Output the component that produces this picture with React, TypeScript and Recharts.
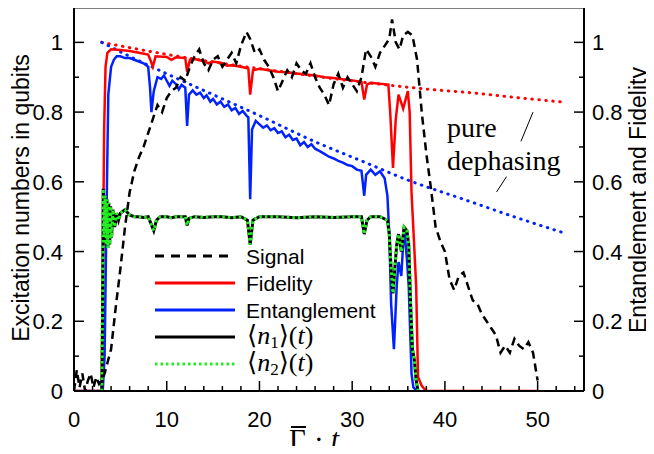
import { ComposedChart, Line, XAxis, YAxis, ReferenceLine } from 'recharts';

const xTicks = [0, 2, 4, 6, 8, 10, 12, 14, 16, 18, 20, 22, 24, 26, 28, 30, 32, 34, 36, 38, 40, 42, 44, 46, 48, 50, 52, 54];
const yTicks = [0, 0.1, 0.2, 0.3, 0.4, 0.5, 0.6, 0.7, 0.8, 0.9, 1];
const seriesNames = ['Signal', 'Fidelity', 'Entanglement'];

// [x, value] pairs
const signal = [
  [0, 0.0], [0.3, 0.06], [0.6, 0.01], [0.9, 0.05], [1.2, 0.0], [1.5, 0.03], [1.8, 0.05], [2.1, 0.01], [2.4, 0.04],
  [2.7, 0.02], [3.0, 0.03], [3.3, 0.05], [3.6, 0.08], [4.0, 0.12], [4.5, 0.24], [5.0, 0.35], [5.5, 0.47], [6.0, 0.57],
  [6.5, 0.63], [7.0, 0.67], [7.5, 0.7], [8.0, 0.74], [8.5, 0.78], [9.0, 0.82], [9.5, 0.8], [10.0, 0.84], [10.5, 0.86],
  [11.0, 0.87], [11.5, 0.9], [12.0, 0.89], [12.5, 0.93], [13.0, 0.96], [13.5, 0.98], [14.0, 0.94], [14.5, 0.92],
  [15.0, 0.95], [15.5, 0.96], [16.0, 0.93], [16.5, 0.95], [17.0, 0.97], [17.5, 0.94], [18.0, 0.99], [18.6, 1.03],
  [19.0, 1.01], [19.5, 0.97], [20.0, 0.98], [20.5, 0.95], [21.0, 0.93], [21.5, 0.9], [22.0, 0.86], [22.5, 0.89],
  [23.0, 0.92], [23.5, 0.9], [24.0, 0.94], [24.5, 0.92], [25.0, 0.91], [25.5, 0.94], [26.0, 0.9], [26.5, 0.87],
  [27.0, 0.85], [27.5, 0.82], [28.0, 0.88], [28.5, 0.91], [29.0, 0.87], [29.5, 0.9], [30.0, 0.88], [30.5, 0.86],
  [31.0, 0.9], [31.5, 0.98], [32.0, 0.96], [32.5, 0.93], [33.0, 0.97], [33.5, 0.99], [34.0, 1.01], [34.3, 1.066],
  [34.7, 1.0], [35.1, 0.98], [35.5, 1.02], [36.0, 1.03], [36.5, 1.02], [37.0, 0.95], [37.5, 0.8], [38.0, 0.68],
  [38.5, 0.58], [39.0, 0.47], [39.5, 0.43], [40.0, 0.4], [40.5, 0.32], [41.0, 0.29], [41.5, 0.33], [42.0, 0.34],
  [42.5, 0.3], [43.0, 0.26], [43.5, 0.25], [44.0, 0.22], [44.5, 0.2], [45.0, 0.18], [45.5, 0.16], [46.0, 0.11],
  [46.5, 0.13], [47.0, 0.11], [47.5, 0.15], [48.0, 0.13], [48.5, 0.12], [49.0, 0.14], [49.5, 0.11], [50.0, 0.03],
];

const fidelity = [
  [0, 0], [3.0, 0], [3.1, 0.3], [3.25, 0.75], [3.4, 0.93], [3.6, 0.97], [4, 0.98], [5, 0.978], [6, 0.975], [7, 0.97],
  [8, 0.965], [8.3, 0.945], [8.5, 0.93], [8.8, 0.96], [10, 0.958], [10.5, 0.95], [11, 0.957], [12, 0.955],
  [12.2, 0.915], [12.5, 0.95], [13, 0.952], [14, 0.946], [14.5, 0.94], [15, 0.945], [16, 0.94], [16.5, 0.933],
  [17, 0.934], [18, 0.93], [18.8, 0.925], [19, 0.85], [19.3, 0.92], [20, 0.924], [21, 0.92], [22, 0.916], [23, 0.914],
  [24, 0.911], [25, 0.908], [26, 0.905], [27, 0.9], [28, 0.898], [29, 0.894], [30, 0.891], [31, 0.887], [31.3, 0.836],
  [31.6, 0.879], [32, 0.884], [33, 0.881], [33.9, 0.879], [34.1, 0.8], [34.4, 0.64], [34.7, 0.78], [35, 0.85],
  [35.5, 0.81], [36, 0.86], [36.2, 0.8], [36.4, 0.57], [36.7, 0.41], [36.9, 0.3], [37.1, 0.04], [37.5, 0.015],
  [37.8, 0.005], [38, 0], [50, 0],
];

const entanglement = [
  [0, 0], [3.1, 0], [3.3, 0.1], [3.5, 0.5], [3.7, 0.85], [4, 0.93], [4.3, 0.95], [4.6, 0.96], [5, 0.96], [5.5, 0.955],
  [6, 0.955], [6.5, 0.95], [7, 0.945], [7.5, 0.94], [8, 0.93], [8.2, 0.87], [8.35, 0.8], [8.6, 0.86], [9, 0.9],
  [9.4, 0.895], [9.7, 0.905], [10, 0.89], [10.3, 0.875], [10.6, 0.89], [11, 0.88], [11.3, 0.865], [11.6, 0.878],
  [12, 0.87], [12.2, 0.76], [12.4, 0.85], [12.8, 0.862], [13.2, 0.85], [13.6, 0.856], [14, 0.84], [14.3, 0.848],
  [14.7, 0.83], [15, 0.838], [15.4, 0.822], [15.8, 0.83], [16.2, 0.815], [16.6, 0.822], [17, 0.805], [17.4, 0.812],
  [17.8, 0.795], [18.2, 0.803], [18.6, 0.79], [18.8, 0.785], [19, 0.55], [19.2, 0.75], [19.6, 0.775], [20, 0.765],
  [20.4, 0.755], [20.8, 0.762], [21.2, 0.748], [21.6, 0.754], [22, 0.74], [22.4, 0.745], [22.8, 0.728], [23.2, 0.735],
  [23.6, 0.72], [24, 0.724], [24.4, 0.705], [24.8, 0.714], [25.2, 0.7], [25.6, 0.708], [26, 0.695], [26.5, 0.688],
  [27, 0.68], [27.5, 0.672], [28, 0.667], [28.5, 0.66], [29, 0.655], [29.5, 0.648], [30, 0.645], [30.5, 0.635],
  [31, 0.632], [31.3, 0.56], [31.5, 0.62], [32, 0.635], [32.5, 0.62], [33, 0.63], [33.5, 0.61], [33.8, 0.56],
  [34, 0.45], [34.2, 0.25], [34.5, 0.12], [34.8, 0.3], [35, 0.37], [35.3, 0.33], [35.6, 0.47], [35.9, 0.38],
  [36.1, 0.3], [36.4, 0.05], [36.6, 0.01], [37, 0],
];

// pure dephasing reference curves
const fidelityDephasing = [
  [3, 1.0], [8, 0.975], [13, 0.952], [18, 0.932], [23, 0.914], [28, 0.896], [33, 0.88], [38, 0.866], [43, 0.855],
  [48, 0.841], [53, 0.828],
];
const entanglementDephasing = [
  [3, 1.0], [6, 0.96], [10, 0.91], [15, 0.85], [20, 0.79], [26, 0.715], [31, 0.66], [36, 0.605], [42, 0.55],
  [48, 0.495], [53, 0.452],
];

const n1 = [
  [3.0, 0], [3.1, 0.3], [3.15, 0.58], [3.25, 0.45], [3.35, 0.56], [3.45, 0.42], [3.55, 0.55], [3.65, 0.41],
  [3.75, 0.54], [3.85, 0.42], [3.95, 0.53], [4.05, 0.44], [4.2, 0.52], [4.4, 0.47], [4.6, 0.51], [4.8, 0.49],
  [5, 0.51], [5.5, 0.52], [6, 0.505], [6.5, 0.5], [7, 0.5], [7.5, 0.498], [8, 0.5], [8.3, 0.48], [8.6, 0.46],
  [8.9, 0.49], [9.3, 0.5], [10, 0.5], [10.5, 0.497], [11, 0.5], [12, 0.5], [12.2, 0.475], [12.4, 0.495], [13, 0.5],
  [14, 0.498], [15, 0.5], [16, 0.5], [17, 0.497], [18, 0.5], [18.7, 0.49], [19, 0.42], [19.3, 0.49], [20, 0.5],
  [22, 0.5], [24, 0.497], [26, 0.5], [28, 0.498], [30, 0.5], [31, 0.5], [31.3, 0.45], [31.6, 0.49], [32, 0.5],
  [33, 0.5], [33.8, 0.49], [34, 0.45], [34.2, 0.35], [34.4, 0.28], [34.6, 0.35], [34.8, 0.42], [35, 0.45], [35.3, 0.4],
  [35.6, 0.47], [35.9, 0.46], [36.1, 0.42], [36.3, 0.25], [36.5, 0.12], [36.7, 0.09], [36.9, 0.03], [37.1, 0],
];
// both qubits overlap in the figure
const n2 = n1;

const rows = (pairs: number[][]) => pairs.map(([x, y]) => ({ x, y }));

const SANS = '"Liberation Sans", Arial, Helvetica, sans-serif';
const SERIF = '"Liberation Serif", "DejaVu Serif", serif';

const XTick = (props: any) => {
  const { x, y, payload } = props;
  const v = payload.value;
  const major = v % 10 === 0;
  return (
    <g>
      <line x1={x} x2={x} y1={y} y2={y - (major ? 10 : 5)} stroke="#000" strokeWidth={1.5} />
      {major && (
        <text x={x} y={y + 36} textAnchor="middle" fontSize={22} fontFamily={SANS} fill="#000">
          {v}
        </text>
      )}
    </g>
  );
};

const fmt = (v: number) => (v === 0 ? '0' : v === 1 ? '1' : v.toFixed(1));
const isMajorY = (v: number) => Math.round(v * 10) % 2 === 0;

const LeftTick = (props: any) => {
  const { x, y, payload } = props;
  const v = payload.value;
  const major = isMajorY(v);
  return (
    <g>
      <line x1={x} x2={x + (major ? 10 : 5)} y1={y} y2={y} stroke="#000" strokeWidth={1.5} />
      {major && (
        <text x={x - 11} y={y + 8} textAnchor="end" fontSize={22} fontFamily={SANS} fill="#000">
          {fmt(v)}
        </text>
      )}
    </g>
  );
};

const RightTick = (props: any) => {
  const { x, y, payload } = props;
  const v = payload.value;
  const major = isMajorY(v);
  return (
    <g>
      <line x1={x} x2={x - (major ? 10 : 5)} y1={y} y2={y} stroke="#000" strokeWidth={1.5} />
      {major && (
        <text x={x + 8} y={y + 8} textAnchor="start" fontSize={22} fontFamily={SANS} fill="#000">
          {fmt(v)}
        </text>
      )}
    </g>
  );
};

const legendRows = [
  { label: seriesNames[0], color: '#000', dash: '9 7', y: 256 },
  { label: seriesNames[1], color: '#ff0000', dash: undefined, y: 283 },
  { label: seriesNames[2], color: '#0022ff', dash: undefined, y: 310 },
];

const MeanLabel = ({ y, idx }: { y: number; idx: string }) => (
  <text x={247} y={y} fontSize={26} fontFamily={SERIF} fill="#000">
    ⟨<tspan fontStyle="italic">n</tspan><tspan fontSize={17} dy={4}>{idx}</tspan><tspan dy={-4}>⟩(</tspan><tspan fontStyle="italic">t</tspan>)
  </text>
);

export default function App() {
  return (
    <div style={{ margin: -8, width: 654, height: 454, position: 'relative', background: '#fff', overflow: 'hidden' }}>
      <ComposedChart width={654} height={454} margin={{ top: 7.5, right: 10, bottom: 23, left: 14 }}>
        <XAxis
          xAxisId="x"
          type="number"
          dataKey="x"
          domain={[0, 55]}
          ticks={xTicks}
          interval={0}
          allowDataOverflow
          height={40}
          tickSize={0}
          tickMargin={0}
          tickLine={false}
          axisLine={{ stroke: '#000', strokeWidth: 2 }}
          tick={XTick}
        />
        <YAxis
          yAxisId="left"
          type="number"
          domain={[0, 1.1]}
          ticks={yTicks}
          interval={0}
          allowDataOverflow
          width={60}
          tickSize={0}
          tickMargin={0}
          tickLine={false}
          axisLine={{ stroke: '#000', strokeWidth: 2 }}
          tick={LeftTick}
        />
        <YAxis
          yAxisId="right"
          orientation="right"
          type="number"
          domain={[0, 1.1]}
          ticks={yTicks}
          interval={0}
          allowDataOverflow
          width={60}
          tickSize={0}
          tickMargin={0}
          tickLine={false}
          axisLine={{ stroke: '#000', strokeWidth: 2 }}
          tick={RightTick}
        />
        <ReferenceLine xAxisId="x" yAxisId="left" y={1.1} stroke="#000" strokeWidth={2} />

        <Line xAxisId="x" yAxisId="right" data={rows(fidelityDephasing)} dataKey="y" type="monotone" dot={false}
          stroke="#ff0000" strokeWidth={3} strokeDasharray="0.5 6.5" strokeLinecap="round" isAnimationActive={false} />
        <Line xAxisId="x" yAxisId="right" data={rows(entanglementDephasing)} dataKey="y" type="monotone" dot={false}
          stroke="#0022ff" strokeWidth={3} strokeDasharray="0.5 6.5" strokeLinecap="round" isAnimationActive={false} />
        <Line xAxisId="x" yAxisId="right" data={rows(entanglement)} dataKey="y" type="linear" dot={false}
          stroke="#0022ff" strokeWidth={2.5} isAnimationActive={false} />
        <Line xAxisId="x" yAxisId="right" data={rows(fidelity)} dataKey="y" type="linear" dot={false}
          stroke="#ff0000" strokeWidth={2.5} isAnimationActive={false} />
        <Line xAxisId="x" yAxisId="left" data={rows(n1)} dataKey="y" type="linear" dot={false}
          stroke="#000" strokeWidth={3} isAnimationActive={false} />
        <Line xAxisId="x" yAxisId="left" data={rows(n2)} dataKey="y" type="linear" dot={false}
          stroke="#22ee22" strokeWidth={3} strokeDasharray="2.5 3" isAnimationActive={false} />
        <Line xAxisId="x" yAxisId="left" data={rows(signal)} dataKey="y" type="linear" dot={false}
          stroke="#000" strokeWidth={2.5} strokeDasharray="8 5" isAnimationActive={false} />

        <ReferenceLine xAxisId="x" yAxisId="right" segment={[{ x: 49.5, y: 0.8 }, { x: 48.2, y: 0.716 }]}
          stroke="#000" strokeWidth={1} ifOverflow="visible" />
        <ReferenceLine xAxisId="x" yAxisId="right" segment={[{ x: 46.65, y: 0.615 }, { x: 45.57, y: 0.571 }]}
          stroke="#000" strokeWidth={1} ifOverflow="visible" />
      </ComposedChart>

      <svg width={654} height={454} style={{ position: 'absolute', left: 0, top: 0, pointerEvents: 'none' }}>
        <text x={29} y={198} transform="rotate(-90 29 198)" textAnchor="middle"
          fontSize={23} fontFamily={SANS} fill="#000">Excitation numbers in qubits</text>
        <text x={646} y={200} transform="rotate(-90 646 200)" textAnchor="middle"
          fontSize={23} fontFamily={SANS} fill="#000">Entanglement and Fidelity</text>

        <line x1={291} x2={306} y1={427} y2={427} stroke="#000" strokeWidth={2} />
        <text x={289} y={449} fontSize={29} fontFamily={SERIF} fill="#000">Γ</text>
        <text x={314} y={449} fontSize={29} fontFamily={SERIF} fill="#000">·</text>
        <text x={331} y={449} fontSize={29} fontFamily={SERIF} fontStyle="italic" fill="#000">t</text>

        <text x={447} y={137} fontSize={28} fontFamily={SERIF} fill="#000">pure</text>
        <text x={447} y={170} fontSize={28} fontFamily={SERIF} fill="#000">dephasing</text>

        {legendRows.map((r) => (
          <g key={r.label}>
            <line x1={155} x2={235} y1={r.y} y2={r.y} stroke={r.color} strokeWidth={3} strokeDasharray={r.dash} />
            <text x={246} y={r.y + 8} fontSize={21} fontFamily={SANS} fill="#000">{r.label}</text>
          </g>
        ))}
        <line x1={155} x2={235} y1={337} y2={337} stroke="#000" strokeWidth={3} />
        <MeanLabel y={344} idx="1" />
        <line x1={155} x2={235} y1={364} y2={364} stroke="#22ee22" strokeWidth={3} strokeDasharray="2.5 3" />
        <MeanLabel y={371} idx="2" />
      </svg>
    </div>
  );
}
